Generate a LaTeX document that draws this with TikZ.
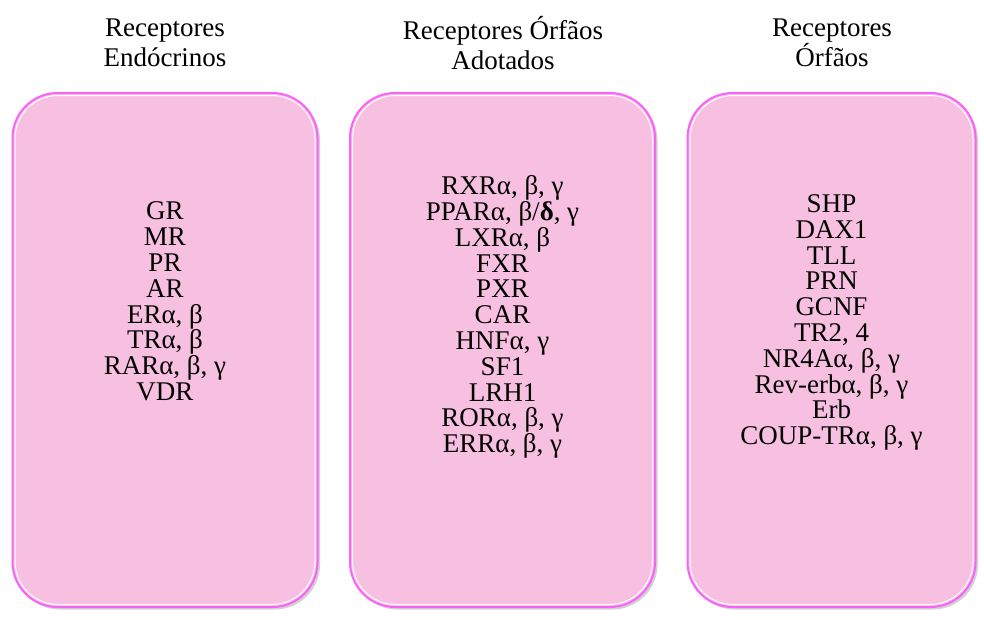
\documentclass[tikz,border=0pt]{standalone}
\usepackage{fontspec}
\setmainfont{Liberation Serif}
\usepackage{xcolor}
\usepackage{tikz}
\usetikzlibrary{shadows}
\definecolor{boxpink}{RGB}{248,192,224}
\definecolor{boxedge}{RGB}{248,100,248}

\tikzset{
  recbox/.style={draw=boxedge,line width=2pt,fill=boxpink,rounded corners=45pt,
    minimum height=514pt,inner sep=0pt,
    drop shadow={shadow xshift=2.5pt,shadow yshift=-2.5pt,opacity=0.25,fill=black!70}},
  recring/.style={draw=white,line width=1pt,rounded corners=43pt,
    minimum height=509pt,inner sep=0pt},
  rectitle/.style={align=center,font=\fontsize{27}{30}\selectfont},
  reclist/.style={align=center,font=\fontsize{27}{25.8}\selectfont},
}

\begin{document}
\begin{tikzpicture}[x=1pt,y=-1pt]
\useasboundingbox[fill=white] (0,0) rectangle (984,619);

% titles
\node[rectitle] (t-endo) at (165,43) {Receptores\\Endócrinos};
\node[rectitle] (t-adot) at (503,43) {Receptores Órfãos\\Adotados};
\node[rectitle] (t-orf) at (832,43) {Receptores\\Órfãos};

% boxes
\node[recbox,minimum width=305pt] (b-endo) at (165,350) {};
\node[recring,minimum width=300pt] (r-endo) at (165,350) {};
\node[recbox,minimum width=305pt] (b-adot) at (502.5,350) {};
\node[recring,minimum width=300pt] (r-adot) at (502.5,350) {};
\node[recbox,minimum width=288pt] (b-orf) at (831.5,350) {};
\node[recring,minimum width=283pt] (r-orf) at (831.5,350) {};

% receptor lists
\node[reclist] (l-endo) at (165,301.5) {GR\\MR\\PR\\AR\\ERα, β\\TRα, β\\RARα, β, γ\\VDR};
\node[reclist] (l-adot) at (502.5,317) {RXRα, β, γ\\PPARα, β/{\bfseries δ}, γ\\LXRα, β\\FXR\\PXR\\CAR\\HNFα, γ\\SF1\\LRH1\\RORα, β, γ\\ERRα, β, γ};
\node[reclist] (l-orf) at (831.5,322.5) {SHP\\DAX1\\TLL\\PRN\\GCNF\\TR2, 4\\NR4Aα, β, γ\\Rev-erbα, β, γ\\Erb\\COUP-TRα, β, γ};
\end{tikzpicture}
\end{document}
